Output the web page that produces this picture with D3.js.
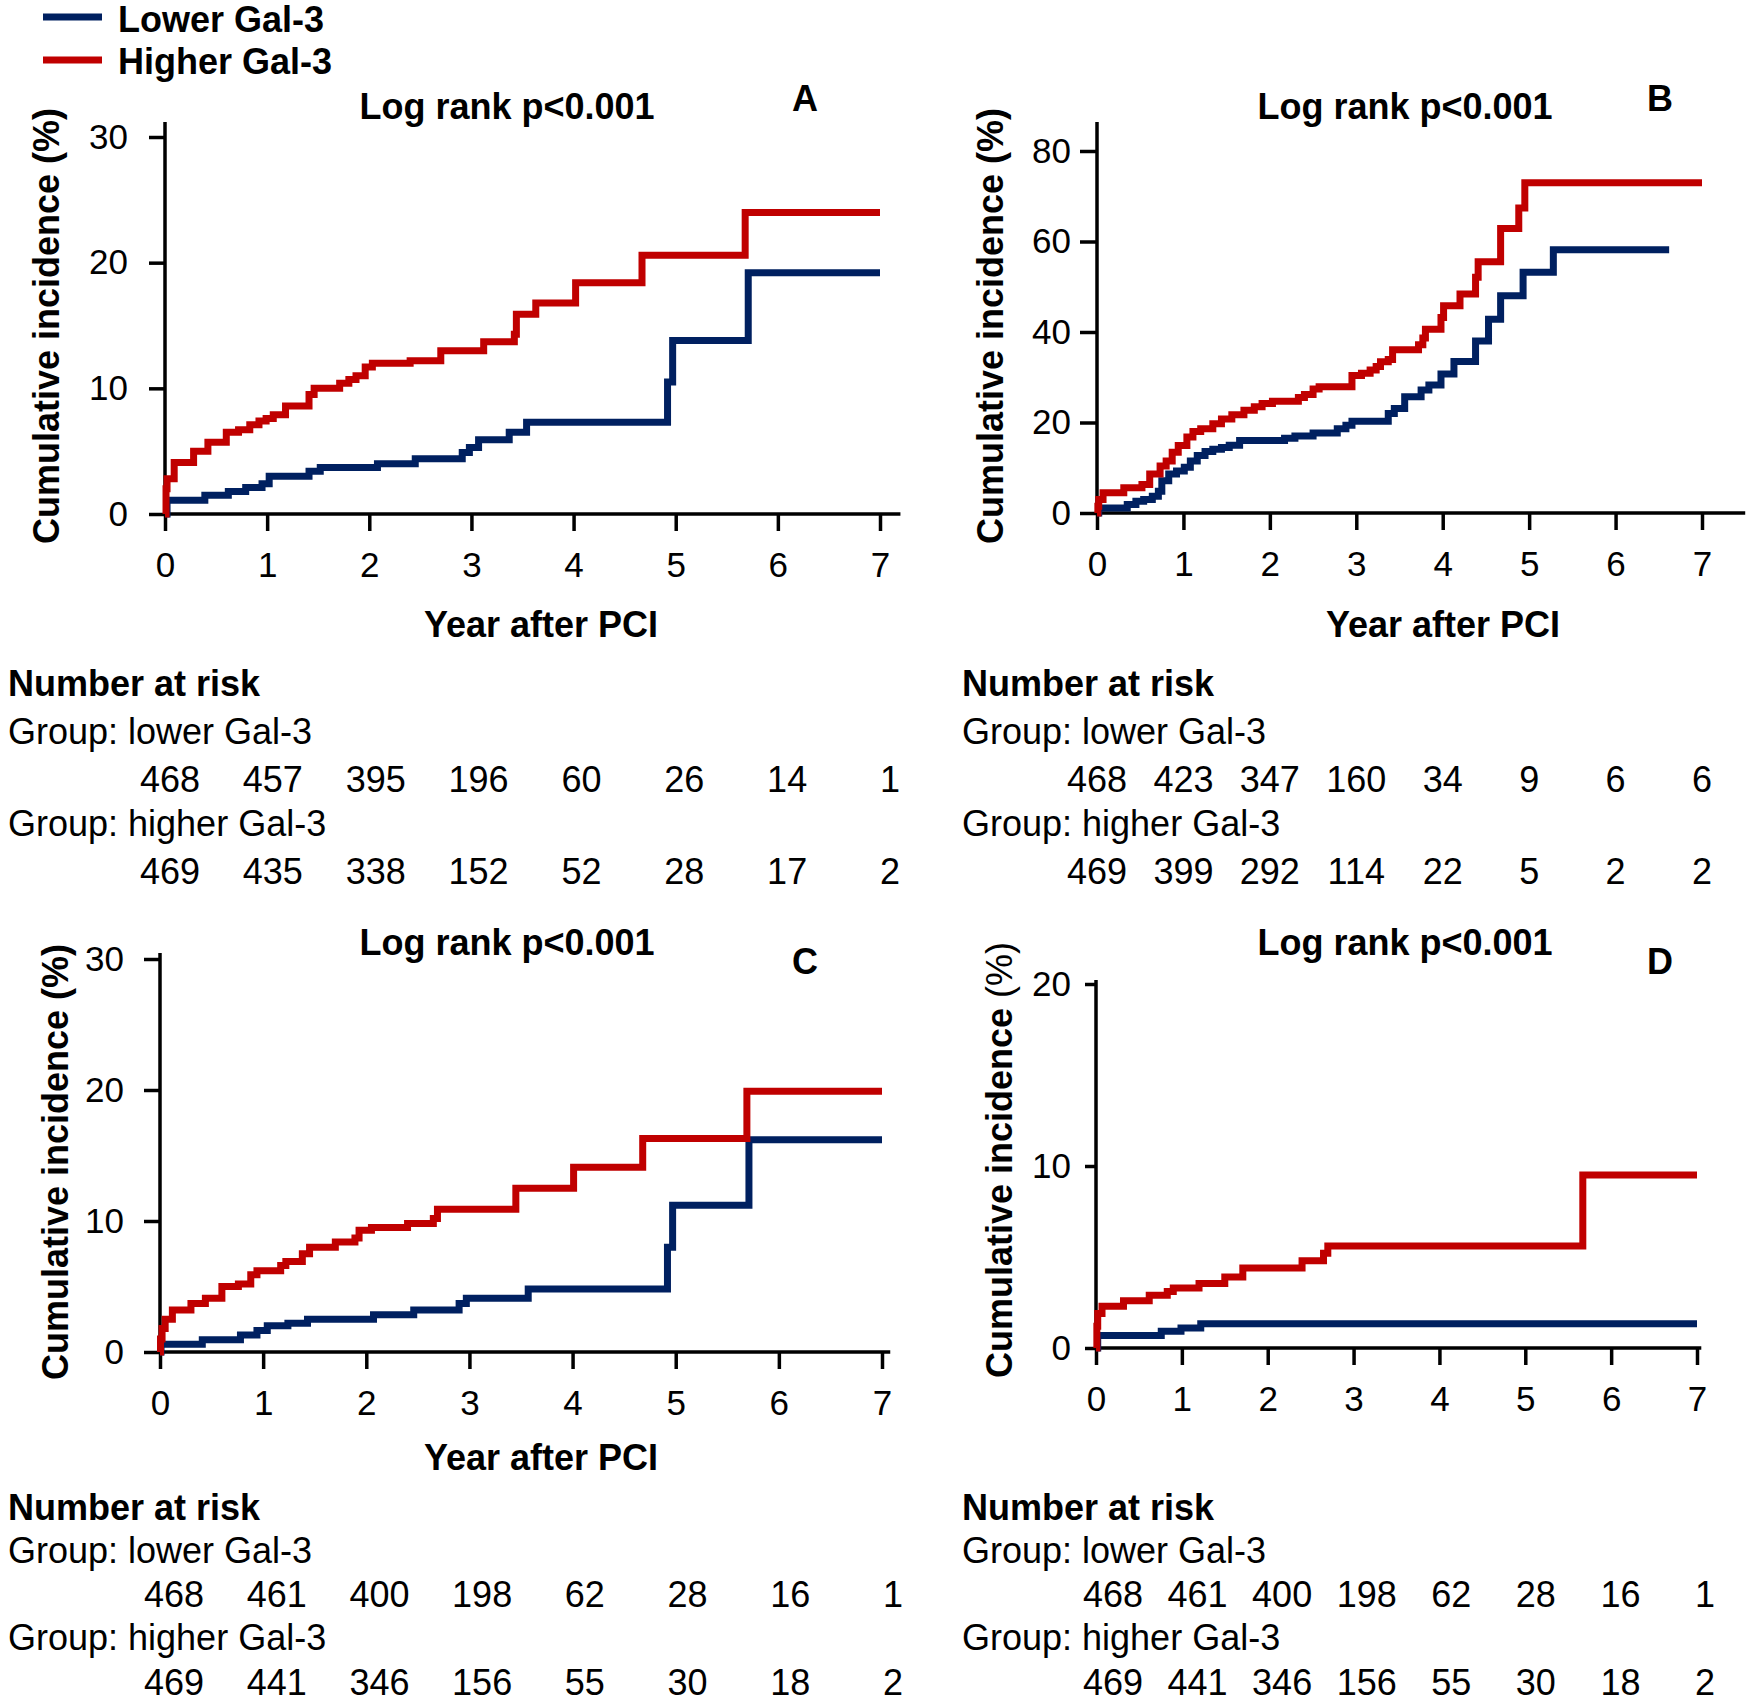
<!DOCTYPE html>
<html>
<head>
<meta charset="utf-8">
<script src="https://cdn.jsdelivr.net/npm/d3@7"></script>
<style>
  body { margin: 0; background: #fff; }
  text { font-family: "Liberation Sans", Arial, sans-serif; fill: #000; }
</style>
</head>
<body>
<svg id="fig" width="1749" height="1704"></svg>
<script>
// step events: [year, cumulative incidence %]
var A_lower = [[0,0],[0.02,1.1],[0.39,1.5],[0.62,1.8],[0.79,2.1],[0.95,2.4],[1.02,3.0],[1.41,3.4],[1.52,3.7],[2.08,4.0],[2.45,4.4],[2.91,4.9],[2.98,5.3],[3.07,5.9],[3.37,6.5],[3.54,7.3],[4.92,10.5],[4.97,13.8],[5.71,19.2]];
var A_higher = [[0,0],[0.01,2.0],[0.02,2.8],[0.09,4.1],[0.28,5.0],[0.42,5.7],[0.60,6.5],[0.72,6.7],[0.83,7.1],[0.92,7.4],[0.99,7.6],[1.06,7.9],[1.18,8.6],[1.41,9.5],[1.46,10.0],[1.71,10.4],[1.80,10.7],[1.87,11.0],[1.96,11.7],[2.03,12.0],[2.40,12.2],[2.70,13.0],[3.12,13.7],[3.42,14.3],[3.44,15.9],[3.63,16.8],[4.02,18.4],[4.67,20.6],[5.68,24.0]];
var B_lower = [[0,0],[0.02,1.1],[0.35,1.9],[0.45,2.6],[0.54,3.0],[0.64,3.7],[0.71,4.8],[0.75,7.1],[0.83,8.6],[0.92,9.3],[1.01,10.1],[1.08,11.5],[1.16,12.7],[1.25,13.6],[1.34,14.1],[1.44,14.5],[1.53,15.0],[1.65,16.0],[2.17,16.5],[2.29,17.0],[2.50,17.7],[2.78,18.6],[2.88,19.4],[2.95,20.3],[3.37,22.0],[3.44,23.1],[3.56,25.7],[3.75,27.2],[3.84,28.3],[3.98,30.7],[4.13,33.5],[4.38,38.0],[4.53,42.8],[4.67,48.0],[4.93,53.2],[5.28,58.2]];
var B_higher = [[0,0],[0.01,1.5],[0.02,3.0],[0.07,4.5],[0.31,5.6],[0.52,6.3],[0.61,8.6],[0.73,10.4],[0.80,11.5],[0.87,13.4],[0.94,14.9],[1.04,16.8],[1.11,18.0],[1.20,18.6],[1.34,19.7],[1.44,20.8],[1.56,21.7],[1.70,22.7],[1.82,23.5],[1.91,24.2],[2.03,24.7],[2.33,25.5],[2.40,26.2],[2.50,27.4],[2.57,27.9],[2.95,30.4],[3.06,30.9],[3.16,31.6],[3.23,32.4],[3.28,33.4],[3.37,33.9],[3.42,36.1],[3.72,37.2],[3.77,38.7],[3.80,40.6],[3.98,43.2],[4.01,45.8],[4.20,48.4],[4.38,52.1],[4.41,55.5],[4.67,62.9],[4.88,67.4],[4.95,73.0]];
var C_lower = [[0,0],[0.01,0.6],[0.41,0.94],[0.78,1.3],[0.94,1.65],[1.04,2.0],[1.24,2.2],[1.43,2.5],[2.07,2.85],[2.46,3.2],[2.90,3.7],[2.97,4.1],[3.57,4.8],[4.92,8.0],[4.97,11.2],[5.71,16.2]];
var C_higher = [[0,0],[0.005,1.0],[0.02,1.8],[0.05,2.5],[0.12,3.2],[0.30,3.7],[0.44,4.1],[0.60,5.0],[0.76,5.2],[0.88,5.9],[0.94,6.2],[1.17,6.6],[1.22,6.9],[1.38,7.5],[1.45,8.0],[1.70,8.4],[1.89,8.7],[1.93,9.3],[2.05,9.5],[2.40,9.8],[2.65,10.2],[2.69,10.9],[3.45,12.5],[4.01,14.1],[4.68,16.3],[5.69,19.9]];
var D_lower = [[0,0],[0.02,0.68],[0.76,0.92],[0.99,1.1],[1.22,1.33]];
var D_higher = [[0,0],[0.01,1.2],[0.02,1.9],[0.07,2.3],[0.32,2.6],[0.62,2.9],[0.83,3.1],[0.90,3.3],[1.20,3.55],[1.50,3.9],[1.71,4.4],[2.40,4.8],[2.65,5.2],[2.70,5.6],[5.67,9.5]];

// last follow-up year of each curve
var endLower = {A: 7, B: 6.62, C: 7, D: 7};
var endHigher = {A: 7, B: 7, C: 7, D: 7};

var years = [0, 1, 2, 3, 4, 5, 6, 7];
var yTicksA = [0, 10, 20, 30];
var yTicksB = [0, 20, 40, 60, 80];
var yTicksC = [0, 10, 20, 30];
var yTicksD = [0, 10, 20];

// number at risk
var riskA_lower = [468, 457, 395, 196, 60, 26, 14, 1];
var riskA_higher = [469, 435, 338, 152, 52, 28, 17, 2];
var riskB_lower = [468, 423, 347, 160, 34, 9, 6, 6];
var riskB_higher = [469, 399, 292, 114, 22, 5, 2, 2];
var riskC_lower = [468, 461, 400, 198, 62, 28, 16, 1];
var riskC_higher = [469, 441, 346, 156, 55, 30, 18, 2];
var riskD_lower = [468, 461, 400, 198, 62, 28, 16, 1];
var riskD_higher = [469, 441, 346, 156, 55, 30, 18, 2];

var blue = "#002060", red = "#c00000";

var svg = d3.select("#fig");

// legend
var leg = [["Lower Gal-3", blue, 17, 32], ["Higher Gal-3", red, 60, 74]];
leg.forEach(function(l) {
  svg.append("line").attr("x1", 43).attr("x2", 102).attr("y1", l[2]).attr("y2", l[2])
    .attr("stroke", l[1]).attr("stroke-width", 7);
  svg.append("text").attr("x", 118).attr("y", l[3]).attr("font-size", 36).attr("font-weight", "bold").text(l[0]);
});

var panels = [
  {id:"A", low:A_lower, high:A_higher, yt:yTicksA, ymax:30,
   px:[165,880], xEnd:7.2, py:[514,137], yTop:122, tick:16, ypad:21, xpad:21,
   title:[507,119], letter:[805,111], ylab:[46,326], xlab:[541,637],
   risk:{x:8, px:[170,890], y:[696,744,792,836,884]}, rl:riskA_lower, rh:riskA_higher},
  {id:"B", low:B_lower, high:B_higher, yt:yTicksB, ymax:80,
   px:[1097,1702], xEnd:7.5, py:[513,151], yTop:122, tick:17, ypad:9, xpad:21,
   title:[1405,119], letter:[1660,111], ylab:[990,326], xlab:[1443,637],
   risk:{x:962, px:[1097,1702], y:[696,744,792,836,884]}, rl:riskB_lower, rh:riskB_higher},
  {id:"C", low:C_lower, high:C_higher, yt:yTicksC, ymax:30,
   px:[160,882], xEnd:7.08, py:[1352,959], yTop:953, tick:16, ypad:20, xpad:21,
   title:[507,955], letter:[805,974], ylab:[55,1162], xlab:[541,1470],
   risk:{x:8, px:[174,893], y:[1520,1563,1607,1650,1695]}, rl:riskC_lower, rh:riskC_higher},
  {id:"D", low:D_lower, high:D_higher, yt:yTicksD, ymax:20,
   px:[1096,1697], xEnd:7.05, py:[1348,984], yTop:980, tick:11, ypad:14, xpad:21,
   title:[1405,955], letter:[1660,974], ylab:[999,1160], xlab:null,
   risk:{x:962, px:[1113,1705], y:[1520,1563,1607,1650,1695]}, rl:riskD_lower, rh:riskD_higher}
];

panels.forEach(function(p) {
  var x = d3.scaleLinear().domain([0, 7]).range(p.px);
  var y = d3.scaleLinear().domain([0, p.ymax]).range(p.py);
  var g = svg.append("g");

  // x axis
  var xa = g.append("g").attr("transform", "translate(0," + p.py[0] + ")")
    .call(d3.axisBottom(x).tickValues(years).tickFormat(d3.format("d"))
      .tickSize(17).tickPadding(p.xpad).tickSizeOuter(0));
  xa.select(".domain").remove();
  xa.selectAll("line").attr("stroke", "#000").attr("stroke-width", 3.5);
  xa.selectAll("text").attr("font-size", 35).attr("font-family", "Liberation Sans, Arial, sans-serif").attr("fill", "#000");

  // y axis
  var ya = g.append("g").attr("transform", "translate(" + p.px[0] + ",0)")
    .call(d3.axisLeft(y).tickValues(p.yt).tickFormat(d3.format("d"))
      .tickSize(p.tick).tickPadding(p.ypad).tickSizeOuter(0));
  ya.select(".domain").remove();
  ya.selectAll("line").attr("stroke", "#000").attr("stroke-width", 3.5);
  ya.selectAll("text").attr("font-size", 35).attr("font-family", "Liberation Sans, Arial, sans-serif").attr("fill", "#000");

  g.append("line").attr("x1", x(0)).attr("x2", x(p.xEnd)).attr("y1", y(0)).attr("y2", y(0))
    .attr("stroke", "#000").attr("stroke-width", 3.5);
  g.append("line").attr("x1", x(0)).attr("x2", x(0)).attr("y1", y(0) + 1.75).attr("y2", p.yTop)
    .attr("stroke", "#000").attr("stroke-width", 3.5);

  // curves
  var line = d3.line().x(function(d) { return x(d[0]); }).y(function(d) { return y(d[1]); })
    .curve(d3.curveStepAfter);
  [[p.low, endLower[p.id], blue], [p.high, endHigher[p.id], red]].forEach(function(s) {
    var pts = s[0].concat([[s[1], s[0][s[0].length - 1][1]]]);
    g.append("path").attr("d", line(pts)).attr("fill", "none")
      .attr("stroke", s[2]).attr("stroke-width", 7).attr("stroke-linejoin", "miter");
  });

  // titles
  g.append("text").attr("x", p.title[0]).attr("y", p.title[1]).attr("text-anchor", "middle")
    .attr("font-size", 36).attr("font-weight", "bold").text("Log rank p<0.001");
  g.append("text").attr("x", p.letter[0]).attr("y", p.letter[1]).attr("text-anchor", "middle")
    .attr("font-size", 36).attr("font-weight", "bold").text(p.id);
  var yl = g.append("text").attr("transform", "translate(" + p.ylab[0] + "," + p.ylab[1] + ") rotate(-90)")
    .attr("text-anchor", "middle").attr("dy", "0.35em").attr("font-size", 36).attr("font-weight", "bold");
  yl.append("tspan").text("Cumulative incidence ");
  yl.append("tspan").attr("font-weight", p.id == "D" ? "normal" : "bold").text("(%)");
  if (p.xlab) {
    g.append("text").attr("x", p.xlab[0]).attr("y", p.xlab[1]).attr("text-anchor", "middle")
      .attr("font-size", 36).attr("font-weight", "bold").text("Year after PCI");
  }

  // number at risk table
  var rx = d3.scaleLinear().domain([0, 7]).range(p.risk.px);
  var ry = p.risk.y;
  g.append("text").attr("x", p.risk.x).attr("y", ry[0]).attr("font-size", 36).attr("font-weight", "bold").text("Number at risk");
  g.append("text").attr("x", p.risk.x).attr("y", ry[1]).attr("font-size", 36).text("Group: lower Gal-3");
  g.append("text").attr("x", p.risk.x).attr("y", ry[3]).attr("font-size", 36).text("Group: higher Gal-3");
  g.selectAll("text.rl").data(p.rl).enter().append("text").attr("class", "rl")
    .attr("x", function(d, i) { return rx(years[i]); }).attr("y", ry[2])
    .attr("text-anchor", "middle").attr("font-size", 36).text(function(d) { return d; });
  g.selectAll("text.rh").data(p.rh).enter().append("text").attr("class", "rh")
    .attr("x", function(d, i) { return rx(years[i]); }).attr("y", ry[4])
    .attr("text-anchor", "middle").attr("font-size", 36).text(function(d) { return d; });
});
</script>
</body>
</html>
